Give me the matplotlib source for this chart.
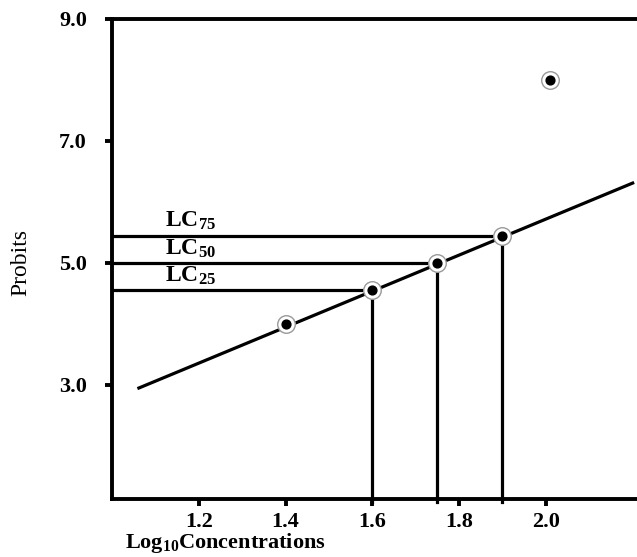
import matplotlib
matplotlib.use("Agg")
import matplotlib.pyplot as plt

# Data
point_x = [1.4, 1.6, 1.75, 1.9, 2.01]
point_y = [4.0, 4.55, 5.0, 5.45, 8.0]
fit_x = [1.062, 2.2]
fit_y = [2.95, 6.31]
lc_names = ["LC$_{25}$", "LC$_{50}$", "LC$_{75}$"]
lc_x = [1.6, 1.75, 1.9]
lc_y = [4.55, 5.0, 5.45]
xticks = [1.2, 1.4, 1.6, 1.8, 2.0]
yticks = [3.0, 5.0, 7.0, 9.0]

plt.rcParams["font.family"] = ["Liberation Serif", "DejaVu Serif"]
plt.rcParams["font.weight"] = "bold"
plt.rcParams["mathtext.fontset"] = "custom"
plt.rcParams["mathtext.rm"] = "Liberation Serif:bold"
plt.rcParams["mathtext.it"] = "Liberation Serif:bold"
plt.rcParams["mathtext.bf"] = "Liberation Serif:bold"

fig = plt.figure(figsize=(6.37, 5.57), dpi=100)
ax = fig.add_axes([0.1758, 0.1041, 0.8242, 0.8618])
ax.set_xlim(1.0, 2.21)
ax.set_ylim(1.13, 9.0)

# regression line
ax.plot(fit_x, fit_y, color="black", lw=2.3, zorder=3)

# LC guide lines
for x, y in zip(lc_x, lc_y):
    ax.plot([1.0, x], [y, y], color="black", lw=2.3, zorder=2, clip_on=False)
    ax.plot([x, x], [1.08, y], color="black", lw=2.3, zorder=2, clip_on=False)

# points: gray ring with black dot
ax.scatter(point_x, point_y, s=160, facecolor="white", edgecolor="#999999",
           linewidth=1, zorder=4)
ax.scatter(point_x, point_y, s=40, color="black", zorder=5)

# labels for the LC lines
for name, y in zip(lc_names, lc_y):
    ax.text(1.122, y + 0.05, name, fontsize=17, fontweight="bold",
            ha="left", va="bottom")

ax.set_xticks(xticks)
ax.set_xticklabels([f"{t:.1f}" for t in xticks])
ax.set_yticks(yticks)
ax.set_yticklabels([f"{t:.1f}" for t in yticks])
ax.tick_params(direction="out", length=5, width=2.8, labelsize=16, pad=4)
ax.tick_params(axis="y", pad=13)
for lab in ax.get_xticklabels() + ax.get_yticklabels():
    lab.set_fontweight("bold")

ax.spines["right"].set_visible(False)
for s in ["left", "bottom", "top"]:
    ax.spines[s].set_linewidth(2.8)

fig.text(0.033, 0.528, "Probits", rotation=90, fontsize=17,
         fontweight="normal", ha="center", va="center")
fig.text(0.353, 0.003, "Log$_{10}$Concentrations", fontsize=16,
         fontweight="bold", ha="center", va="bottom")

fig.savefig("out.png", dpi=100)
